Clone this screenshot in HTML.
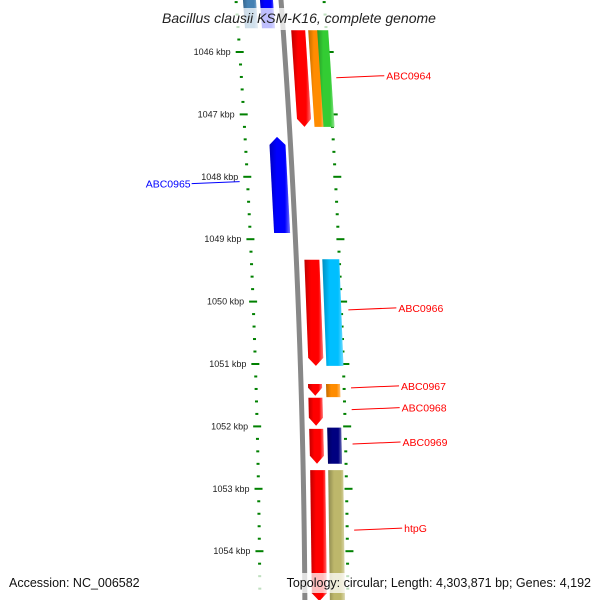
<!DOCTYPE html>
<html><head><meta charset="utf-8">
<style>
html,body{margin:0;padding:0;background:#fff;}
svg{display:block;font-family:"Liberation Sans",sans-serif;}
</style></head>
<body>
<svg id="map" width="600" height="600" viewBox="0 0 600 600" xmlns="http://www.w3.org/2000/svg">
<defs>
<linearGradient id="shade" x1="0" y1="0" x2="1" y2="0">
<stop offset="0" stop-color="#000" stop-opacity="0.25"/>
<stop offset="0.35" stop-color="#000" stop-opacity="0"/>
<stop offset="0.75" stop-color="#fff" stop-opacity="0"/>
<stop offset="1" stop-color="#fff" stop-opacity="0.45"/>
</linearGradient>
<linearGradient id="bbgrad" x1="0" y1="0" x2="1" y2="0">
<stop offset="0" stop-color="#555"/><stop offset="0.5" stop-color="#aaa"/><stop offset="1" stop-color="#666"/>
</linearGradient>
</defs>
<g id="ticks"></g>
<g id="genes"></g>
<path id="backbone" fill="none" stroke="#888" stroke-width="5"/>
<g id="labels"></g>
<rect x="146" y="8" width="306" height="22" fill="#fff" opacity="0.75"/>
<text x="299" y="23" text-anchor="middle" font-size="14" font-style="italic" fill="#222">Bacillus clausii KSM-K16, complete genome</text>
<rect x="258" y="573" width="342" height="20" fill="#fff" opacity="0.75"/>
<text x="9" y="587" font-size="12.5" fill="#111">Accession: NC_006582</text>
<text x="591" y="587" text-anchor="end" font-size="12.5" fill="#111">Topology: circular; Length: 4,303,871 bp; Genes: 4,192</text>
</svg>
<script>
// data (kbp positions)
const majorTicks = [1046,1047,1048,1049,1050,1051,1052,1053,1054];
const geneNames = ["g-red1","ABC0964o","ABC0964g","ABC0965","g-red2","ABC0966","g-red3","ABC0967","g-red4","g-red5","ABC0969","g-red6","htpG","top-a","top-b"];
const geneStarts = [1045.65,1045.65,1045.65,1047.36,1049.33,1049.32,1051.32,1051.32,1051.54,1052.04,1052.02,1052.70,1052.70,1045.0,1045.0];
const geneEnds   = [1047.20,1047.20,1047.20,1048.90,1051.03,1051.03,1051.51,1051.53,1051.99,1052.60,1052.60,1054.80,1054.80,1045.62,1045.62];
const geneStrand = [1,0,0,-1,1,0,1,0,1,1,0,1,0,0,0]; // 1 down arrow, -1 up arrow, 0 no arrow
const geneColors = ["#ff0000","#ff8c00","#33cc33","#0000ff","#ff0000","#00bfff","#ff0000","#ff8c00","#ff0000","#ff0000","#000080","#ff0000","#bdb76b","#4682b4","#0000ff"];
const geneOffA = [8,25,34,-21,8,26,7,25,7,7,25,7,25,-38,-21];
const geneOffB = [22,35,45,-5,23,43,21,39,21,21,39,22,40,-25,-8];
const labelNames = ["ABC0964","ABC0965","ABC0966","ABC0967","ABC0968","ABC0969","htpG"];
const labelKbp = [1046.38,1048.11,1050.10,1051.35,1051.70,1052.25,1053.63];
const labelColors = ["#ff0000","#0000ff","#ff0000","#ff0000","#ff0000","#ff0000","#ff0000"];
const labelSide = [1,-1,1,1,1,1,1];

const NS="http://www.w3.org/2000/svg";
const Y0=52, PXK=62.4;
function y(k){return Y0+(k-1046)*PXK;}
function base(yy){const t=(650-yy)/650;return 305-24*t*t;}
function mk(tag,attrs,parent){const e=document.createElementNS(NS,tag);for(const a in attrs)e.setAttribute(a,attrs[a]);parent.appendChild(e);return e;}

// backbone
let d="";for(let yy=-5;yy<=605;yy+=5){d+=(yy===-5?"M":"L")+base(yy).toFixed(2)+","+yy;}
document.getElementById('backbone').setAttribute('d',d);

// ticks
const tg=document.getElementById('ticks');
for(let i=0;i<=60;i++){
  const k=1045+i*0.2; const yy=y(k); if(yy<-5||yy>605)continue;
  const major=Math.abs(k-Math.round(k))<1e-6;
  const b=base(yy);
  const w=major?8:3;
  const l=mk('rect',{x:b-45-w/2,y:yy-1,width:w,height:2,fill:"#008000"},tg);
  
  
  const r=mk('rect',{x:b+43-w/2+(major?2:0),y:yy-1,width:w,height:2,fill:"#008000"},tg);
  
  
}
majorTicks.forEach(k=>{
  const yy=y(k);
  const t=mk('text',{x:base(yy)-54,y:yy+3,'text-anchor':'end','font-size':9,fill:"#222"},tg);
  t.textContent=k+" kbp";
  
  
});

// genes
const gg=document.getElementById('genes');
geneNames.forEach((n,i)=>{
  const y1=y(geneStarts[i]), y2=y(geneEnds[i]);
  const b1=base(y1), b2=base(y2);
  const a=geneOffA[i], c=geneOffB[i], s=geneStrand[i], ah=8;
  let pts;
  if(s===1){
    const yb=y2-ah, bb=base(yb);
    pts=[[b1+a,y1],[b1+c,y1],[bb+c,yb],[b2+(a+c)/2,y2],[bb+a,yb]];
  }else if(s===-1){
    const yt=y1+ah, bt=base(yt);
    pts=[[b1+(a+c)/2,y1],[bt+c,yt],[b2+c,y2],[b2+a,y2],[bt+a,yt]];
  }else{
    pts=[[b1+a,y1],[b1+c,y1],[b2+c,y2],[b2+a,y2]];
  }
  const ps=pts.map(p=>p[0].toFixed(1)+","+p[1].toFixed(1)).join(" ");
  const g=mk('g',{},gg);
  
  
  mk('polygon',{points:ps,fill:geneColors[i]},g);
  mk('polygon',{points:ps,fill:"url(#shade)"},g);
});

// labels
const lg=document.getElementById('labels');
labelNames.forEach((n,i)=>{
  const yy=y(labelKbp[i]); const b=base(yy);
  const g=mk('g',{},lg);
  
  
  if(labelSide[i]===1){
    const x1=b+50, x2=b+98;
    mk('line',{x1:x1,y1:yy+2,x2:x2,y2:yy,stroke:labelColors[i],'stroke-width':1},g);
    const t=mk('text',{x:x2+2,y:yy+4,'font-size':10.5,fill:labelColors[i]},g);t.textContent=n;
  }else{
    const x1=b-53, x2=b-101;
    mk('line',{x1:x1,y1:yy-2,x2:x2,y2:yy,stroke:labelColors[i],'stroke-width':1},g);
    const t=mk('text',{x:x2-1,y:yy+4,'text-anchor':'end','font-size':10.5,fill:labelColors[i]},g);t.textContent=n;
  }
});
</script>
</body></html>
